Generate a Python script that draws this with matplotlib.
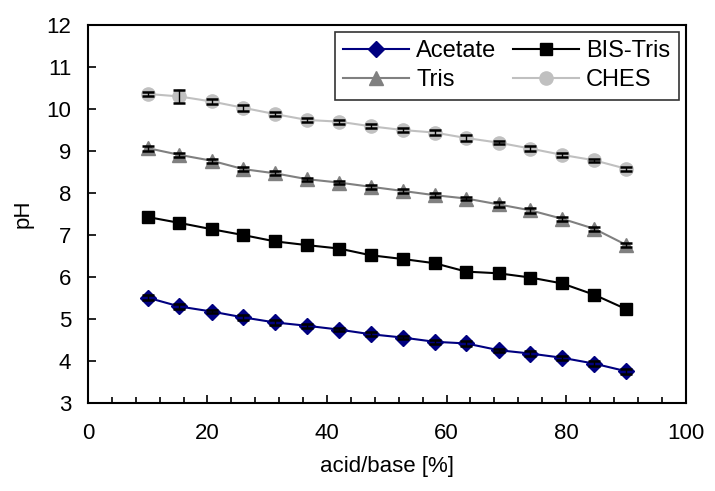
import matplotlib
matplotlib.use("Agg")
import matplotlib.pyplot as plt
from matplotlib.ticker import MultipleLocator

plt.rcParams['font.family'] = ['Liberation Sans', 'DejaVu Sans']

x = [10, 15.3, 20.7, 26, 31.3, 36.7, 42, 47.3, 52.7, 58, 63.3, 68.7, 74, 79.3, 84.7, 90]

acetate = [5.51, 5.30, 5.18, 5.04, 4.92, 4.84, 4.75, 4.64, 4.56, 4.46, 4.42, 4.26, 4.18, 4.08, 3.94, 3.76]
bistris = [7.43, 7.29, 7.14, 7.00, 6.85, 6.76, 6.68, 6.52, 6.43, 6.33, 6.13, 6.09, 5.99, 5.85, 5.58, 5.24]
tris = [9.07, 8.91, 8.77, 8.57, 8.47, 8.33, 8.25, 8.15, 8.05, 7.95, 7.87, 7.73, 7.59, 7.39, 7.15, 6.77]
ches = [10.36, 10.30, 10.18, 10.03, 9.88, 9.74, 9.70, 9.59, 9.50, 9.44, 9.31, 9.20, 9.06, 8.91, 8.78, 8.58]

acetate_err = [0.06, 0.05, 0.04, 0.05, 0.05, 0.05, 0.04, 0.05, 0.04, 0.05, 0.05, 0.04, 0.05, 0.05, 0.06, 0.06]
bistris_err = [0.05, 0.05, 0.05, 0.05, 0.05, 0.04, 0.05, 0.05, 0.05, 0.06, 0.06, 0.05, 0.06, 0.05, 0.06, 0.06]
tris_err = [0.06, 0.05, 0.05, 0.04, 0.05, 0.04, 0.04, 0.05, 0.04, 0.05, 0.04, 0.05, 0.06, 0.05, 0.05, 0.05]
ches_err = [0.05, 0.16, 0.05, 0.07, 0.05, 0.04, 0.05, 0.05, 0.04, 0.06, 0.07, 0.04, 0.05, 0.05, 0.04, 0.05]

fig = plt.figure(figsize=(7.15, 4.91), dpi=100)
ax = fig.add_axes([0.123, 0.179, 0.836, 0.770])

series = [
    ('Acetate', acetate, acetate_err, '#000080', 'D', 8.5),
    ('BIS-Tris', bistris, bistris_err, '#000000', 's', 8.5),
    ('Tris', tris, tris_err, '#808080', '^', 10),
    ('CHES', ches, ches_err, '#C0C0C0', 'o', 9.5),
]
handles = {}
for name, y, err, col, mk, ms in series:
    line, = ax.plot(x, y, color=col, marker=mk, markersize=ms, linewidth=1.5, label=name, zorder=3)
    ax.errorbar(x, y, yerr=err, fmt='none', ecolor='black', elinewidth=1.0,
                capsize=4.5, capthick=1.8, zorder=4)
    handles[name] = line

ax.set_xlim(0, 100)
ax.set_ylim(3, 12)
ax.xaxis.set_major_locator(MultipleLocator(20))
ax.xaxis.set_minor_locator(MultipleLocator(4))
ax.yaxis.set_major_locator(MultipleLocator(1))
ax.tick_params(axis='both', which='both', direction='in', labelsize=16)
ax.tick_params(axis='x', which='both', pad=14)
ax.tick_params(axis='y', which='both', pad=12)
ax.tick_params(axis='both', which='major', length=6, width=1.2)
ax.tick_params(axis='x', which='minor', length=4, width=1.2)
for s in ax.spines.values():
    s.set_linewidth(1.5)

ax.set_xlabel('acid/base [%]', fontsize=16, labelpad=9)
ax.set_ylabel('pH', fontsize=16, labelpad=9)

order = ['Acetate', 'Tris', 'BIS-Tris', 'CHES']
leg = ax.legend([handles[n] for n in order], order, ncol=2, loc='upper right', fontsize=17,
                frameon=True, fancybox=False, edgecolor='black', borderaxespad=0.3,
                handlelength=2.8, columnspacing=0.7, handletextpad=0.3, borderpad=0.35,
                labelspacing=0.3)
leg.get_frame().set_linewidth(1.2)

fig.savefig('out.png', dpi=100)
